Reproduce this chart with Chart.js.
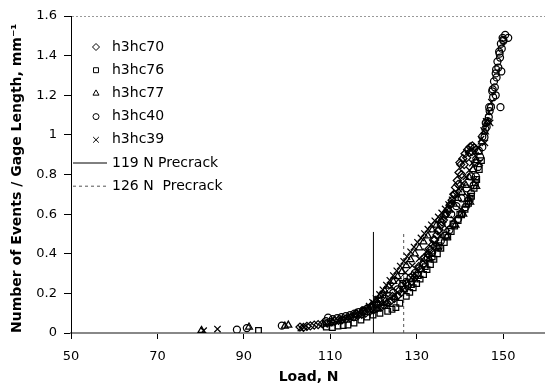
<!DOCTYPE html>
<html>
<head>
<meta charset="utf-8">
<script src="https://cdn.jsdelivr.net/npm/chart.js@4/dist/chart.umd.min.js"></script>
<style>
  html, body { margin: 0; padding: 0; background: #fff; overflow: hidden; }
  #wrap { width: 552px; height: 388px; }
</style>
</head>
<body>
<div id="wrap"><canvas id="chart" width="552" height="388"></canvas></div>
<script>
document.addEventListener('DOMContentLoaded', function() {
    // --- Data ---
    const loadTicks = [50, 70, 90, 110, 130, 150];
    const countTicks = [0, 0.2, 0.4, 0.6, 0.8, 1, 1.2, 1.4, 1.6];

    const h3hc70Load = [103.0,103.8,104.6,105.4,106.3,107.2,108.2,109.3,110.2,111.0,111.9,112.8,113.7,114.6,115.5,116.4,117.3,118.2,119.1,120.0,120.8,121.6,122.4,123.2,124.0,124.8,125.6,126.4,127.2,128.0,128.8,129.5,130.2,130.9,131.5,132.1,132.7,133.2,133.7,134.2,134.7,135.2,135.7,136.2,136.7,137.2,137.7,138.2,138.6,139.0,139.4,139.8,140.2,140.7,141.2,141.8,142.4,142.9,143.3,142.8,
        116.0,117.8,119.6,121.2,122.8,124.4,126.0,127.6,129.1,130.5,131.8,132.9,133.9,134.9,135.9,136.9,137.9,138.8,139.6,140.4,141.0,141.6,142.2,140.0];
    const h3hc70Count = [0.030,0.028,0.034,0.036,0.040,0.042,0.046,0.050,0.055,0.060,0.064,0.068,0.072,0.076,0.082,0.088,0.094,0.100,0.108,0.116,0.124,0.132,0.140,0.150,0.162,0.174,0.188,0.204,0.222,0.240,0.260,0.280,0.300,0.322,0.345,0.370,0.395,0.420,0.445,0.470,0.495,0.520,0.545,0.570,0.595,0.620,0.645,0.670,0.700,0.735,0.770,0.810,0.850,0.880,0.905,0.925,0.940,0.945,0.935,0.915,
        0.100,0.110,0.125,0.145,0.160,0.185,0.215,0.250,0.290,0.335,0.380,0.425,0.470,0.515,0.560,0.605,0.650,0.700,0.750,0.800,0.850,0.885,0.910,0.860];

    const h3hc76Load = [93.4,109.1,110.5,111.8,113.0,114.1,115.5,117.1,118.5,119.9,121.5,123.3,124.3,125.2,126.1,126.8,127.6,128.4,129.2,130.0,130.8,131.6,132.4,133.2,134.0,134.8,135.6,136.4,137.2,138.0,138.8,139.6,140.4,141.2,142.0,142.7,143.3,143.9,144.5,145.0,
        128.8,130.4,132.0,133.6,135.2,136.8,138.4,140.0,141.6,142.4,143.6];
    const h3hc76Count = [0.013,0.030,0.028,0.035,0.038,0.040,0.050,0.066,0.080,0.090,0.100,0.110,0.120,0.128,0.150,0.250,0.185,0.205,0.228,0.250,0.272,0.295,0.320,0.345,0.372,0.400,0.428,0.456,0.484,0.512,0.540,0.568,0.596,0.624,0.655,0.690,0.730,0.775,0.825,0.870,
        0.245,0.290,0.335,0.385,0.440,0.495,0.550,0.600,0.650,0.680,0.760];

    const h3hc77Load = [80.2,91.2,99.5,100.3,108.5,110.5,112.4,114.2,115.8,117.2,118.5,119.6,120.6,121.6,122.6,123.6,124.6,125.6,126.6,127.6,128.6,129.6,130.6,131.6,132.6,133.6,134.6,135.6,136.6,137.6,138.6,139.6,140.5,141.4,142.2,143.0,143.7,144.4,145.1,145.8,146.5,
        121.0,123.0,125.0,127.0,129.0,131.0,133.0,135.0,137.0,139.0,140.8,142.4,143.8];
    const h3hc77Count = [0.013,0.030,0.035,0.040,0.045,0.055,0.065,0.078,0.092,0.106,0.122,0.142,0.165,0.190,0.213,0.236,0.260,0.285,0.310,0.340,0.370,0.400,0.430,0.460,0.490,0.520,0.545,0.570,0.595,0.620,0.650,0.680,0.710,0.745,0.785,0.825,0.870,0.915,0.965,1.015,1.065,
        0.120,0.150,0.180,0.220,0.270,0.320,0.375,0.430,0.485,0.545,0.600,0.660,0.740];

    const h3hc40Load = [88.4,90.7,98.8,109.0,109.5,110.6,111.6,112.6,113.6,114.6,115.6,116.6,117.6,118.6,119.6,120.6,121.6,122.6,123.6,124.6,125.6,126.6,127.6,128.6,129.6,130.6,131.6,132.6,133.6,134.6,135.6,136.6,137.6,138.6,139.6,140.5,141.3,142.0,142.6,143.2,143.7,144.2,144.7,145.2,145.7,146.2,146.7,147.2,147.7,148.1,148.5,148.9,149.3,149.7,150.1,150.5,151.2,149.4,149.6,148.3,145.9,146.4,146.9,147.5,147.9,148.3,148.7,149.1,149.5,149.9,
        138.0,139.2,140.4,141.6,142.6,143.5,144.4,145.2,146.0,146.8,147.6,148.4,149.2,150.0];
    const h3hc40Count = [0.017,0.025,0.037,0.060,0.077,0.070,0.075,0.080,0.085,0.090,0.098,0.105,0.114,0.124,0.134,0.145,0.158,0.172,0.187,0.203,0.220,0.238,0.258,0.280,0.302,0.326,0.352,0.380,0.408,0.436,0.464,0.492,0.520,0.548,0.576,0.604,0.635,0.668,0.705,0.745,0.790,0.838,0.888,0.938,0.988,1.040,1.090,1.140,1.190,1.240,1.290,1.340,1.390,1.435,1.475,1.505,1.490,1.140,1.320,1.200,1.030,1.070,1.120,1.220,1.270,1.310,1.370,1.420,1.460,1.490,
        0.600,0.640,0.680,0.730,0.790,0.860,0.920,0.990,1.060,1.140,1.230,1.330,1.410,1.480];

    const h3hc39Load = [80.7,83.9,103.2,104.0,110.0,112.0,113.8,115.4,116.8,118.0,119.0,119.8,120.6,121.4,122.2,123.0,123.8,124.6,125.4,126.2,127.0,127.8,128.6,129.4,130.2,131.0,131.8,132.6,133.4,134.2,135.0,135.8,136.6,137.4,138.2,139.0,139.8,140.6,141.4,142.2,142.9,143.6,144.3,144.9,145.5,146.1,146.7,147.3,
        121.0,122.6,124.2,125.8,127.4,129.0,130.6,132.2,133.8,135.4,137.0,138.6,140.2,141.8,143.2,144.6,145.8,147.0];
    const h3hc39Count = [0.012,0.020,0.025,0.030,0.050,0.060,0.072,0.086,0.102,0.118,0.136,0.155,0.174,0.195,0.218,0.242,0.266,0.290,0.314,0.338,0.362,0.386,0.410,0.434,0.458,0.480,0.502,0.524,0.546,0.566,0.586,0.606,0.626,0.648,0.672,0.698,0.726,0.756,0.788,0.822,0.858,0.896,0.936,0.978,1.022,1.068,1.115,1.165,
        0.170,0.200,0.235,0.270,0.305,0.340,0.375,0.410,0.450,0.490,0.530,0.575,0.625,0.690,0.770,0.860,0.960,1.060];

    // Precrack marker lines (load, count at both ends)
    const precrack119Load = [120, 120];
    const precrack119Count = [0, 0.51];
    const precrack126Load = [127, 127];
    const precrack126Count = [0, 0.5];

    function toPoints(xs, ys) {
        return xs.map((x, i) => ({ x: x, y: ys[i] }));
    }

    const markerColor = '#000';
    function markerSet(label, xs, ys, style, radius) {
        return {
            label: label,
            data: toPoints(xs, ys),
            pointStyle: style,
            pointRadius: radius,
            pointBorderWidth: 1.25,
            borderColor: markerColor,
            backgroundColor: 'rgba(0,0,0,0)',
            showLine: false
        };
    }

    const datasets = [
        markerSet('h3hc70', h3hc70Load, h3hc70Count, 'rectRot', 4),
        markerSet('h3hc76', h3hc76Load, h3hc76Count, 'rect', 4),
        markerSet('h3hc77', h3hc77Load, h3hc77Count, 'triangle', 4),
        markerSet('h3hc40', h3hc40Load, h3hc40Count, 'circle', 3.5),
        markerSet('h3hc39', h3hc39Load, h3hc39Count, 'crossRot', 4.5),
        {
            label: '119 N Precrack',
            data: toPoints(precrack119Load, precrack119Count),
            showLine: true, pointRadius: 0,
            borderColor: '#000', borderWidth: 1
        },
        {
            label: '126 N  Precrack',
            data: toPoints(precrack126Load, precrack126Count),
            showLine: true, pointRadius: 0,
            borderColor: '#555', borderWidth: 1, borderDash: [3, 3]
        }
    ];

    const tickFont = { family: 'DejaVu Sans', size: 13 };
    const titleFont = { family: 'DejaVu Sans', size: 14, weight: 'bold' };

    // Legend drawn inside the plot, top-left, like the original
    const insideLegend = {
        id: 'insideLegend',
        afterDraw(chart) {
            const c = chart.ctx;
            const rowTop = 47, rowStep = 23.2;
            const markX = 96, textX = 112;
            c.save();
            c.font = '14px "DejaVu Sans"';
            c.textBaseline = 'middle';
            chart.data.datasets.forEach((ds, i) => {
                const y = rowTop + i * rowStep;
                c.strokeStyle = ds.borderColor;
                c.lineWidth = 1;
                if (ds.showLine) {
                    c.setLineDash(ds.borderDash || []);
                    c.beginPath();
                    c.moveTo(73, y);
                    c.lineTo(107, y);
                    c.stroke();
                    c.setLineDash([]);
                } else {
                    c.fillStyle = 'rgba(0,0,0,0)';
                    Chart.helpers.drawPoint(c, {
                        pointStyle: ds.pointStyle,
                        radius: ds.pointRadius - 0.5,
                        borderWidth: 1,
                        rotation: 0
                    }, markX, y);
                }
                c.fillStyle = '#000';
                c.fillText(ds.label, textX, y);
            });
            c.restore();
        }
    };

    new Chart(document.getElementById('chart'), {
        type: 'scatter',
        data: { datasets: datasets },
        options: {
            responsive: false,
            animation: false,
            layout: { padding: { top: 16, right: 2.5, left: 0, bottom: 0 } },
            plugins: {
                legend: { display: false },
                tooltip: { enabled: false }
            },
            scales: {
                x: {
                    type: 'linear',
                    min: 50,
                    max: 160,
                    afterBuildTicks: s => { s.ticks = loadTicks.map(v => ({ value: v })); },
                    afterFit: s => { s.height = 55; },
                    grid: { drawOnChartArea: false, tickLength: 6, tickColor: '#000' },
                    border: { color: '#888', width: 2 },
                    ticks: { font: tickFont, color: '#000', padding: 10, autoSkip: false, maxRotation: 0 },
                    title: {
                        display: true, text: 'Load, N', font: titleFont, color: '#000',
                        padding: { top: 0, bottom: 2 }
                    }
                },
                y: {
                    type: 'linear',
                    min: 0,
                    max: 1.6,
                    afterBuildTicks: s => { s.ticks = countTicks.map(v => ({ value: v })); },
                    afterFit: s => { s.width = 71; },
                    grid: {
                        color: c => (c.tick && Math.abs(c.tick.value - 1.6) < 1e-9) ? '#999' : 'rgba(0,0,0,0)',
                        tickLength: 7,
                        tickColor: '#000'
                    },
                    border: { color: '#000', width: 1, dash: [2, 2] },
                    ticks: {
                        font: tickFont, color: '#000', padding: 7,
                        callback: v => String(+v.toFixed(1))
                    },
                    title: {
                        display: true, text: 'Number of Events / Gage Length, mm\u207B\u00B9',
                        align: 'start', font: titleFont, color: '#000',
                        padding: { top: 9, bottom: 0 }
                    }
                }
            }
        },
        plugins: [insideLegend]
    });
});
</script>
</body>
</html>
